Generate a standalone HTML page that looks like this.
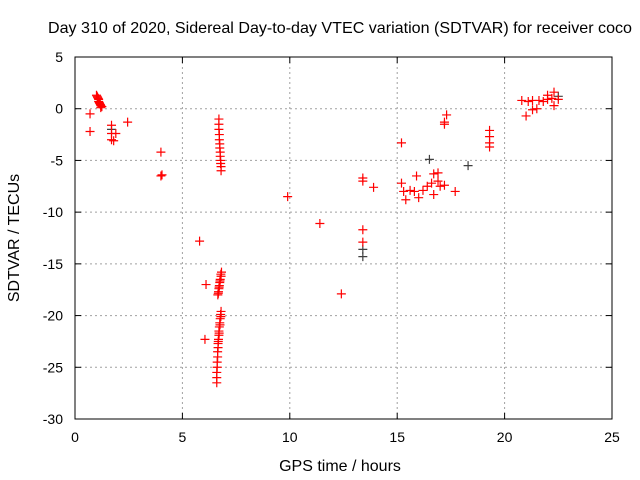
<!DOCTYPE html>
<html><head><meta charset="utf-8"><style>
body{margin:0;background:#fff}
svg{display:block;font-family:"Liberation Sans",sans-serif}
</style></head><body>
<svg id="chart" width="640" height="480" viewBox="0 0 640 480">
<rect width="640" height="480" fill="#fff"/>
<text x="340" y="33" font-size="16" text-anchor="middle" textLength="584" lengthAdjust="spacingAndGlyphs">Day 310 of 2020, Sidereal Day-to-day VTEC variation (SDTVAR) for receiver coco</text>
<g id="grid"></g>
<g id="ticks"></g>
<g id="black"></g>
<g id="red"></g>
<rect x="75" y="57" width="537" height="362" fill="none" stroke="#000" stroke-width="1"/>
<text x="340" y="471" font-size="16" text-anchor="middle">GPS time / hours</text>
<text transform="translate(19,238) rotate(-90)" font-size="16" text-anchor="middle">SDTVAR / TECUs</text>
</svg>
<script>
const xTicks=[0,5,10,15,20,25];
const yTicks=[5,0,-5,-10,-15,-20,-25,-30];
const redX=[0.7,0.7,1.0,1.03,1.05,1.08,1.1,1.1,1.13,1.15,1.18,1.2,1.2,1.25,1.7,1.7,1.8,1.9,1.7,2.45,4.0,4.0,4.05,
6.7,6.7,6.7,6.72,6.72,6.74,6.74,6.76,6.76,6.78,6.78,6.8,6.8,
5.8,6.1,6.05,6.65,6.68,6.7,6.72,6.74,6.76,6.8,6.82,6.67,6.71,6.75,6.79,
6.8,6.78,6.76,6.74,6.72,6.7,6.7,6.68,6.66,6.66,6.64,6.64,6.62,6.62,6.6,6.6,6.6,6.79,6.75,6.71,6.67,
9.9,11.4,12.4,13.4,13.4,13.4,13.4,13.9,
15.2,15.2,15.3,15.4,15.6,15.8,16.0,15.9,16.2,16.4,16.6,16.7,16.7,16.9,16.9,17.0,17.2,17.2,17.2,17.3,17.7,19.3,19.3,19.3,19.3,
20.8,21.0,21.1,21.3,21.3,21.5,21.6,21.8,22.0,22.0,22.2,22.3,22.3,22.5];
const redY=[-0.5,-2.2,1.3,1.2,1.1,1.0,0.9,0.7,0.6,0.5,0.4,0.3,0.1,0.2,-2.4,-3.0,-3.1,-2.4,-1.6,-1.3,-4.2,-6.5,-6.4,
-1,-1.5,-2,-2.5,-3,-3.4,-3.8,-4.2,-4.6,-5,-5.3,-5.6,-6,
-12.8,-17,-22.3,-18.0,-17.7,-17.4,-17.1,-16.8,-16.5,-16.2,-15.8,-17.85,-17.25,-16.65,-16.0,
-19.6,-19.9,-20.3,-20.7,-21.1,-21.5,-21.9,-22.3,-22.7,-23.1,-23.5,-24,-24.5,-25,-25.5,-26,-26.5,-20.1,-20.9,-21.7,-22.5,
-8.5,-11.1,-17.9,-6.7,-7.0,-11.7,-12.9,-7.6,
-3.3,-7.2,-8.0,-8.8,-7.9,-8.0,-8.6,-6.5,-7.9,-7.5,-7.2,-6.3,-8.3,-6.2,-7.0,-7.5,-7.4,-1.3,-1.5,-0.6,-8.0,-2.1,-2.7,-3.3,-3.7,
0.8,-0.7,0.7,0.8,-0.1,0.0,0.8,0.7,0.9,1.3,1.0,1.6,0.3,0.9];
const blackX=[1.7,13.4,13.4,16.5,18.3,22.5];
const blackY=[-2.0,-13.6,-14.3,-4.9,-5.5,1.2];
const NS='http://www.w3.org/2000/svg';
const X0=75,X1=612,Y0=419,Y1=57,xmin=0,xmax=25,ymin=-30,ymax=5;
function sx(v){return X0+(v-xmin)/(xmax-xmin)*(X1-X0);}
function sy(v){return Y0-(v-ymin)/(ymax-ymin)*(Y0-Y1);}
function mk(tag,a,p){const e=document.createElementNS(NS,tag);for(const k in a)e.setAttribute(k,a[k]);p.appendChild(e);return e;}
const grid=document.getElementById('grid'),ticks=document.getElementById('ticks');
xTicks.forEach(t=>{const x=sx(t);
 if(t>xmin&&t<xmax){const l=mk('line',{x1:x,x2:x,y1:Y0,y2:Y1,stroke:'#a0a0a0','stroke-dasharray':'2,3'},grid);
 
 }
 mk('line',{x1:x,x2:x,y1:Y0,y2:Y0-6,stroke:'#000'},ticks);mk('line',{x1:x,x2:x,y1:Y1,y2:Y1+6,stroke:'#000'},ticks);
 const tx=mk('text',{x:x,y:Y0+23,'font-size':14,'text-anchor':'middle'},ticks);tx.textContent=t;
 
 });
yTicks.forEach(t=>{const y=sy(t);
 if(t>ymin&&t<ymax){const l=mk('line',{x1:X0,x2:X1,y1:y,y2:y,stroke:'#a0a0a0','stroke-dasharray':'2,3'},grid);
 
 }
 mk('line',{x1:X0,x2:X0+6,y1:y,y2:y,stroke:'#000'},ticks);mk('line',{x1:X1,x2:X1-6,y1:y,y2:y,stroke:'#000'},ticks);
 const tx=mk('text',{x:X0-12,y:y+5,'font-size':14,'text-anchor':'end'},ticks);tx.textContent=t;
 
 });
function plus(g,x,y,c){const px=sx(x),py=sy(y);
 const p=mk('path',{d:`M${px-4.5},${py}H${px+4.5}M${px},${py-4.5}V${py+4.5}`,stroke:c,'stroke-width':1.2,fill:'none'},g);
 
 }
const rg=document.getElementById('red'),bg=document.getElementById('black');
blackX.forEach((x,i)=>plus(bg,x,blackY[i],'#404040'));
redX.forEach((x,i)=>plus(rg,x,redY[i],'#ff0000'));
</script>
</body></html>
